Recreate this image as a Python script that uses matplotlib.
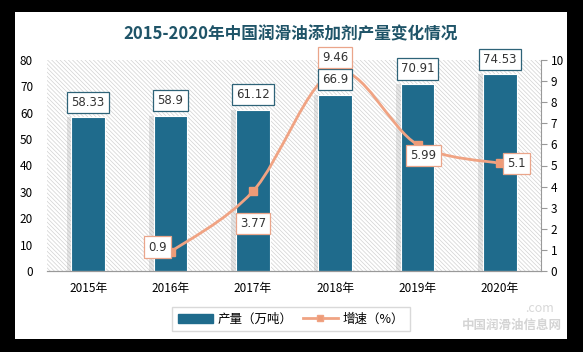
import numpy as np
import matplotlib.pyplot as plt
from matplotlib.patches import Rectangle, PathPatch
from matplotlib.path import Path
from matplotlib.lines import Line2D

plt.rcParams['font.family'] = ['Noto Sans CJK SC', 'DejaVu Sans']
plt.rcParams['hatch.linewidth'] = 0.5
plt.rcParams['hatch.color'] = '#d2d2d2'

years = ['2015年', '2016年', '2017年', '2018年', '2019年', '2020年']
output = [58.33, 58.9, 61.12, 66.9, 70.91, 74.53]   # 产量（万吨）
growth = [None, 0.9, 3.77, 9.46, 5.99, 5.1]         # 增速（%）

bar_color = '#1f6b8c'
line_color = '#f0a383'
W, H = 583, 352

fig = plt.figure(figsize=(W / 100, H / 100), dpi=100)
fig.patch.set_facecolor('black')
panel = Rectangle((15 / W, 13 / H), 552 / W, 327 / H, transform=fig.transFigure,
                  facecolor='white', edgecolor='none', zorder=-5)
fig.add_artist(panel)

ax = fig.add_axes([47 / W, 81 / H, 494 / W, 211 / H])
ax.set_facecolor('none')
ax2 = ax.twinx()

x = np.arange(len(years))
ax.set_xlim(-0.5, len(years) - 0.5)
ax.set_ylim(0, 80)
ax2.set_ylim(0, 10)

# hatched background
ax.add_patch(Rectangle((0, 0), 1, 1, transform=ax.transAxes, facecolor='white',
                       edgecolor='#d2d2d2', hatch='\\' * 8, linewidth=0, zorder=0))

# bars with soft shadow
ax.bar(x - 0.05, output, width=0.42, color='#9a9a9a', alpha=0.25, zorder=1)
bars = ax.bar(x, output, width=0.41, color=bar_color, edgecolor='white', linewidth=0.8, zorder=2)

# smoothed growth line (Catmull-Rom as cubic Bezier)
gx = [xi for xi, g in zip(x, growth) if g is not None]
gy = [g for g in growth if g is not None]
verts = [(gx[0], gy[0])]
codes = [Path.MOVETO]
n = len(gx)
for i in range(n - 1):
    p0 = (gx[max(i - 1, 0)], gy[max(i - 1, 0)])
    p1 = (gx[i], gy[i])
    p2 = (gx[i + 1], gy[i + 1])
    p3 = (gx[min(i + 2, n - 1)], gy[min(i + 2, n - 1)])
    c1 = (p1[0] + (p2[0] - p0[0]) / 6, p1[1] + (p2[1] - p0[1]) / 6)
    c2 = (p2[0] - (p3[0] - p1[0]) / 6, p2[1] - (p3[1] - p1[1]) / 6)
    verts += [c1, c2, p2]
    codes += [Path.CURVE4] * 3
ax2.add_patch(PathPatch(Path(verts, codes), fill=False, edgecolor=line_color, lw=2, zorder=3))
ax2.plot(gx, gy, linestyle='none', marker='s', markersize=6, color='#ee9b77', zorder=4)

# bar value labels (drawn on top of the line)
for xi, v in zip(x, output):
    ax2.annotate(f'{v:g}', (xi, v), xycoords=ax.transData, xytext=(0, 15),
                 textcoords='offset pixels', ha='center', va='center', fontsize=8.5,
                 color='#333333', zorder=5, fontfamily='DejaVu Sans',
                 bbox=dict(boxstyle='square,pad=0.35', fc='white', ec='#2e6378', lw=0.9))

offsets = {1: (-13, 5), 2: (0, -32), 3: (0, 14), 4: (6, -11), 5: (17, 0)}
for xi, g in zip(x, growth):
    if g is None:
        continue
    dx, dy = offsets[xi]
    ax2.annotate(f'{g:g}', (xi, g), xytext=(dx, dy), textcoords='offset pixels',
                 ha='center', va='center', fontsize=8.5, color='#333333', zorder=6,
                 fontfamily='DejaVu Sans',
                 bbox=dict(boxstyle='square,pad=0.35', fc='white', ec='#eaa58a', lw=0.9))

# axes styling
ax.set_xticks(x)
ax.set_xticklabels(years, fontsize=8.5)
ax.set_yticks(np.arange(0, 81, 10))
ax.tick_params(axis='y', length=0, labelsize=8.5, pad=10)
ax.tick_params(axis='x', length=0, labelsize=8.5, pad=8)
ax2.set_yticks(np.arange(0, 11, 1))
ax2.tick_params(axis='y', length=4, color='#999999', labelsize=8.5, pad=3)
for a in (ax, ax2):
    for s in ['top', 'left', 'right']:
        a.spines[s].set_visible(False)
    a.spines['bottom'].set_color('#999999')
ax2.spines['right'].set_visible(True)
ax2.spines['right'].set_color('#999999')

fig.text(291 / W, 1 - 34 / H, '2015-2020年中国润滑油添加剂产量变化情况', ha='center', va='center',
         fontsize=12, fontweight='bold', color='#1f5468')

handles = [Rectangle((0, 0), 1, 1, color=bar_color),
           Line2D([], [], color=line_color, lw=2, marker='s', markersize=5, markerfacecolor='#ee9b77')]
fig.legend(handles, ['产量（万吨）', '增速（%）'], loc='center', bbox_to_anchor=(291 / W, 1 - 319 / H),
           ncol=2, fontsize=9, frameon=True, fancybox=False, edgecolor='#d0d0d0',
           handlelength=2.8, columnspacing=0.8, handletextpad=0.4, borderpad=0.45)

# watermark
fig.text(540 / W, 1 - 308 / H, '.com', ha='center', va='center', fontsize=9, style='italic',
         color='#d8d8d8')
fig.text(512 / W, 1 - 325 / H, '中国润滑油信息网', ha='center', va='center', fontsize=9,
         color='#d4d4d4', fontweight='bold')

fig.savefig('out.png', dpi=100, facecolor=fig.get_facecolor())
